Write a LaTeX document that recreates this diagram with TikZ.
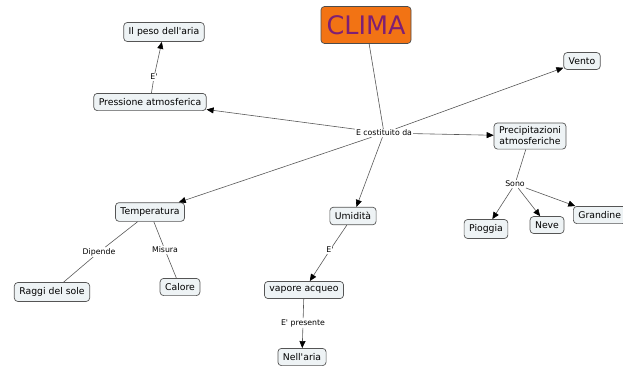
\documentclass[tikz,border=0pt]{standalone}
\usepackage{fontspec}
\setmainfont{DejaVu Sans}
\usetikzlibrary{arrows.meta}
\definecolor{boxfill}{HTML}{EEF3F5}
\definecolor{boxline}{HTML}{555555}
\definecolor{climafill}{HTML}{F27314}
\definecolor{climatext}{HTML}{7E1F74}
\newcommand\ap{\textquotesingle}
\tikzset{
  concept/.style={draw=boxline, fill=boxfill, rounded corners=3.5pt, line width=0.7pt,
    font=\fontsize{9.3}{11}\selectfont, inner xsep=5pt, inner ysep=5pt, align=center},
  lbl/.style={fill=white, inner sep=1pt, font=\fontsize{7.8}{9}\selectfont},
  conn/.style={draw=black!65, line width=0.6pt},
  arr/.style={conn, -{Triangle[length=7pt,width=6pt,color=black]}}
}
\begin{document}
\begin{tikzpicture}[x=1pt,y=-1pt]
\useasboundingbox (0,0) rectangle (623,368);
\node[draw=black!70, fill=climafill, rounded corners=3.5pt, line width=0.7pt, text=climatext,
  font=\fontsize{25.5}{30}\selectfont, inner xsep=4pt, inner ysep=2pt, minimum width=90pt, minimum height=37pt] (clima) at (366,25) {CLIMA};
\node[lbl] (cost) at (384,133) {E costituito da};
\node[concept] (peso) at (164,32) {Il peso dell\ap aria};
\node[concept] (press) at (150,102) {Pressione atmosferica};
\node[lbl] (e1) at (154,77) {E\ap};
\node[concept] (vento) at (582,61) {Vento};
\node[concept, inner ysep=4pt] (prec) at (530,136) {Precipitazioni\\atmosferiche};
\node[lbl] (sono) at (515,184) {Sono};
\node[concept] (piog) at (486,229) {Pioggia};
\node[concept] (neve) at (547,225) {Neve};
\node[concept, anchor=west] (grand) at (573,215) {Grandine};
\node[concept] (temp) at (150,212) {Temperatura};
\node[lbl] (dip) at (99,252) {Dipende};
\node[lbl] (mis) at (165,250) {Misura};
\node[concept] (raggi) at (52,292) {Raggi del sole};
\node[concept] (calore) at (180,287) {Calore};
\node[concept] (umid) at (353,216) {Umidità};
\node[lbl] (e2) at (330,250) {E\ap};
\node[concept] (vap) at (304,290) {vapore acqueo};
\node[lbl] (pres) at (303,323) {E\ap{} presente};
\node[concept] (aria) at (302,357) {Nell\ap aria};

\draw[conn] (clima) -- (cost);
\draw[arr] (cost) -- (press);
\draw[arr] (cost) -- (vento);
\draw[arr] (cost) -- (prec);
\draw[arr] (cost) -- (temp);
\draw[arr] (cost) -- (umid);
\draw[conn] (press) -- (e1);
\draw[arr] (e1) -- (peso);
\draw[conn] (prec) -- (sono);
\draw[arr] (sono) -- (piog);
\draw[arr] (sono) -- (neve);
\draw[arr] (sono) -- (grand);
\draw[conn] (temp) -- (dip);
\draw[conn] (dip) -- (raggi);
\draw[conn] (temp) -- (mis);
\draw[conn] (mis) -- (calore);
\draw[conn] (umid) -- (e2);
\draw[arr] (e2) -- (vap);
\draw[conn] (vap) -- (pres);
\draw[arr] (pres) -- (aria);
\end{tikzpicture}
\end{document}
